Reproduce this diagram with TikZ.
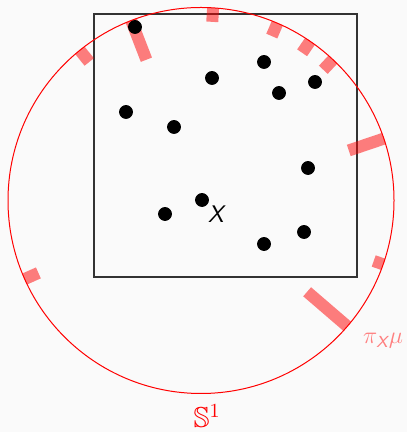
\documentclass[tikz,border=0pt]{standalone}
\usepackage{amsmath,amssymb}
\usepackage{tikz}

\definecolor{bgcol}{HTML}{FAFAFA}
\tikzset{
  bar/.style={red, draw opacity=0.5, line width=6pt},
}

\begin{document}
\begin{tikzpicture}[x=0.5pt, y=0.5pt]
\fill[bgcol] (0,0) rectangle (407,432);
\useasboundingbox (0,0) rectangle (407,432);

\coordinate (c) at (201,231.5);

% Box
\draw[black!80, line width=0.55pt] (94,155) rectangle (357,418);

% Projected measure
\draw[bar, shift={(c)}] (86.4:193) -- (86.4:179);
\draw[bar, shift={(c)}] (111.2:193) -- (111.2:151);
\draw[bar, shift={(c)}] (128.9:193) -- (128.9:178);
\draw[bar, shift={(c)}] (66.7:193) -- (66.7:179);
\draw[bar, shift={(c)}] (55.6:193) -- (55.6:179);
\draw[bar, shift={(c)}] (46.9:193) -- (46.9:179);
\draw[bar, shift={(c)}] (18.7:193) -- (18.7:156);
\draw[bar, shift={(c)}] (-19.3:193) -- (-19.3:183);
\draw[bar, shift={(c)}] (-40.7:193) -- (-40.7:140);
\draw[bar, shift={(c)}] (204:193) -- (204:178);

\node[red!50, font=\large] (measure_label) at (383,91) {$\pi_{\text{\sffamily\itshape X}}\mu$};

% Circle
\draw[red, line width=0.5pt] (c) circle[radius=193];
\node[red, font=\Large] (circle_label) at (207,16) {$\mathbb{S}^1$};

% Points
\filldraw (135,405) circle[radius=3.25pt];
\filldraw (212,354) circle[radius=3.25pt];
\filldraw (264,370) circle[radius=3.25pt];
\filldraw (279,339) circle[radius=3.25pt];
\filldraw (315,350) circle[radius=3.25pt];
\filldraw (126,320) circle[radius=3.25pt];
\filldraw (174,305) circle[radius=3.25pt];
\filldraw (308,264) circle[radius=3.25pt];
\filldraw (202,232) circle[radius=3.25pt] node[font=\large] (x_label) at (217,218) {\textsf{\textit{X}}};
\filldraw (165,218) circle[radius=3.25pt];
\filldraw (264,188) circle[radius=3.25pt];
\filldraw (304,200) circle[radius=3.25pt];
\end{tikzpicture}
\end{document}
